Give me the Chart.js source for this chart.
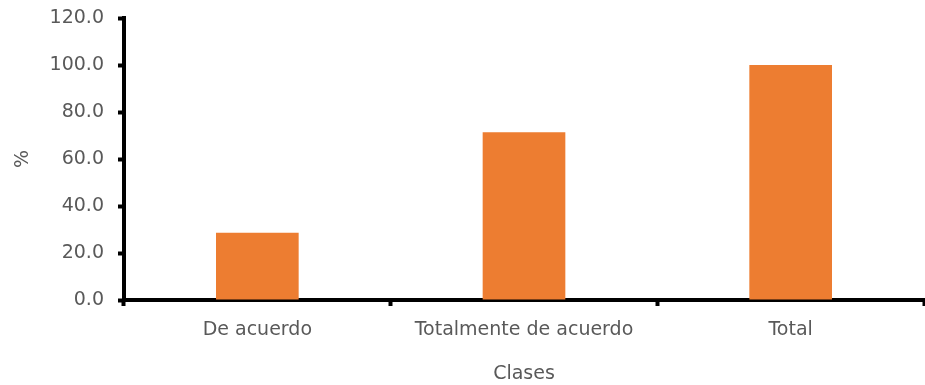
<!DOCTYPE html>
<html>
<head>
<meta charset="utf-8">
<script src="https://cdn.jsdelivr.net/npm/chart.js@4"></script>
<style>
  html, body { margin: 0; padding: 0; background: #fff; }
  #wrap { width: 925px; height: 385px; }
</style>
</head>
<body>
<div id="wrap"><canvas id="grafico" width="925" height="385"></canvas></div>
<script>
// Datos del gráfico
const clases = ["De acuerdo", "Totalmente de acuerdo", "Total"];
const porcentajes = [28.6, 71.4, 100.0];
const yTicks = [0, 20, 40, 60, 80, 100, 120];

const colorTexto = "#595959";
const fuente = "'DejaVu Sans', sans-serif";

const ctx = document.getElementById("grafico").getContext("2d");

new Chart(ctx, {
    type: "bar",
    data: {
        labels: clases,
        datasets: [{
            data: porcentajes,
            backgroundColor: "#ED7D31",
            borderWidth: 0,
            categoryPercentage: 1,
            barPercentage: 0.31
        }]
    },
    options: {
        responsive: false,
        animation: false,
        layout: { padding: { top: 18, right: 1, left: 0, bottom: 0 } },
        plugins: {
            legend: { display: false },
            tooltip: { enabled: false }
        },
        scales: {
            x: {
                grid: {
                    display: true,
                    drawOnChartArea: false,
                    drawTicks: true,
                    tickLength: 6,
                    tickColor: "#000",
                    tickWidth: 4,
                    offset: true
                },
                border: { display: true, color: "#000", width: 4 },
                ticks: {
                    color: colorTexto,
                    font: { family: fuente, size: 19 },
                    padding: 13
                },
                title: {
                    display: true,
                    text: "Clases",
                    color: colorTexto,
                    font: { family: fuente, size: 19 },
                    padding: { top: 8, bottom: 0 }
                },
                afterFit: function (scale) {
                    scale.height = 85;
                    scale.paddingLeft = 0;
                    scale.paddingRight = 0;
                }
            },
            y: {
                min: 0,
                max: 120,
                afterBuildTicks: function (scale) {
                    scale.ticks = yTicks.map(v => ({ value: v }));
                },
                grid: {
                    display: true,
                    drawOnChartArea: false,
                    drawTicks: true,
                    tickLength: 6,
                    tickColor: "#000",
                    tickWidth: 4
                },
                border: { display: true, color: "#000", width: 4 },
                ticks: {
                    color: colorTexto,
                    font: { family: fuente, size: 19 },
                    padding: 14,
                    callback: function (value) { return Number(value).toFixed(1); }
                },
                title: {
                    display: true,
                    text: "%",
                    color: colorTexto,
                    font: { family: fuente, size: 19 },
                    padding: { top: 12, bottom: 0 }
                },
                afterFit: function (scale) {
                    scale.width = 124;
                    scale.paddingTop = 0;
                    scale.paddingBottom = 0;
                }
            }
        }
    }
});
</script>
</body>
</html>
